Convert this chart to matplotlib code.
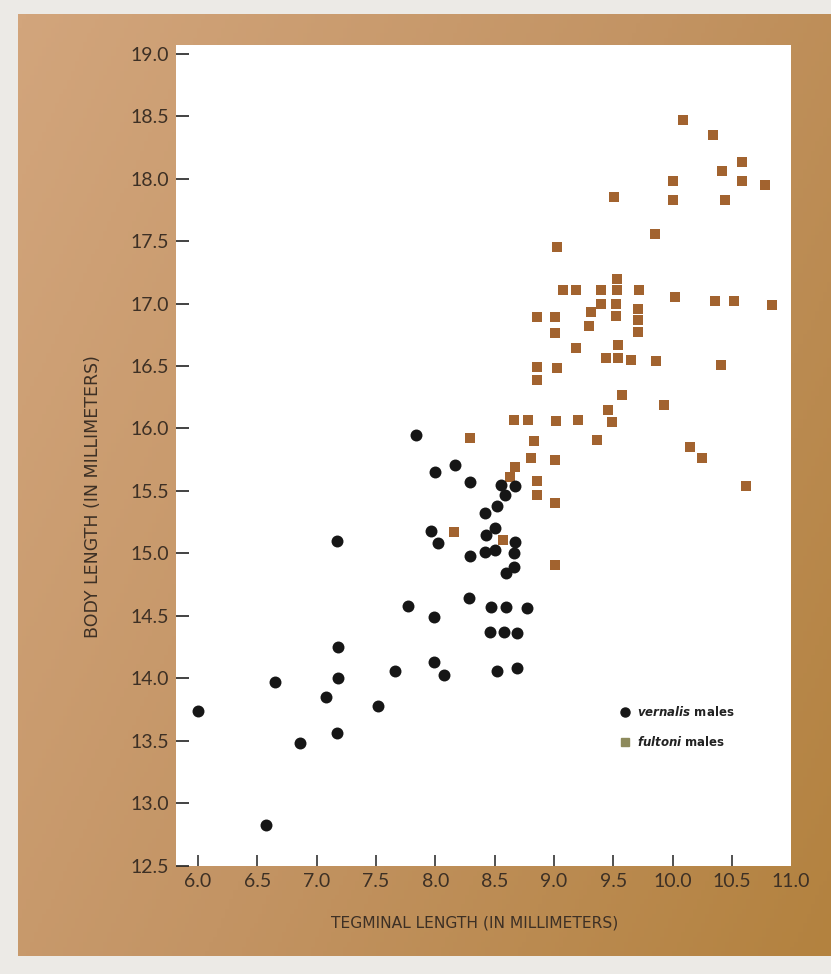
import numpy as np
import matplotlib
matplotlib.use("Agg")
import matplotlib.pyplot as plt
from matplotlib.lines import Line2D
from matplotlib.colors import LinearSegmentedColormap

# vernalis males: tegminal length vs body length (mm)
vern_x = [6.00, 6.65, 6.57, 6.86, 7.08, 7.18, 7.18, 7.17, 7.52, 7.66,
          7.84, 8.00, 8.17, 8.29, 8.55, 8.67, 8.59, 8.52, 8.42, 8.50,
          8.43, 7.96, 8.02, 7.17, 8.67, 8.66, 8.50, 8.42, 8.29, 8.66,
          8.60, 8.28, 7.77, 7.99, 8.47, 8.60, 8.77, 8.46, 8.58, 8.69,
          7.99, 8.07, 8.52, 8.69]
vern_y = [13.74, 13.97, 12.83, 13.48, 13.85, 14.25, 14.00, 13.56, 13.78, 14.06,
          15.95, 15.65, 15.71, 15.57, 15.55, 15.54, 15.47, 15.38, 15.32, 15.20,
          15.15, 15.18, 15.08, 15.10, 15.09, 15.00, 15.03, 15.01, 14.98, 14.89,
          14.84, 14.64, 14.58, 14.49, 14.57, 14.57, 14.56, 14.37, 14.37, 14.36,
          14.13, 14.03, 14.06, 14.08]

# fultoni males
fult_x = [10.09, 10.34, 10.59, 10.42, 10.00, 10.59, 10.78, 9.51, 10.00, 10.44,
          9.85, 9.03, 9.53, 9.08, 9.19, 9.40, 9.53, 9.72, 10.02, 10.36,
          10.52, 10.84, 9.40, 9.52, 9.71, 9.31, 8.86, 9.01, 9.52, 9.71,
          9.30, 9.01, 9.71, 9.54, 9.19, 9.44, 9.54, 9.65, 9.86, 10.41,
          8.86, 9.03, 8.86, 9.57, 9.93, 9.46, 9.49, 8.66, 8.78, 9.02,
          9.20, 8.29, 8.83, 9.36, 10.15, 8.81, 9.01, 10.25, 8.67, 8.63,
          8.86, 8.86, 9.01, 8.16, 8.57, 9.01, 10.62]
fult_y = [18.47, 18.35, 18.13, 18.06, 17.98, 17.98, 17.95, 17.85, 17.83, 17.83,
          17.56, 17.45, 17.20, 17.11, 17.11, 17.11, 17.11, 17.11, 17.05, 17.02,
          17.02, 16.99, 17.00, 17.00, 16.96, 16.93, 16.89, 16.89, 16.90, 16.87,
          16.82, 16.76, 16.77, 16.67, 16.64, 16.56, 16.56, 16.55, 16.54, 16.51,
          16.49, 16.48, 16.39, 16.27, 16.19, 16.15, 16.05, 16.07, 16.07, 16.06,
          16.07, 15.92, 15.90, 15.91, 15.85, 15.76, 15.75, 15.76, 15.69, 15.61,
          15.58, 15.47, 15.40, 15.17, 15.11, 14.91, 15.54]

x_ticks = [6.0, 6.5, 7.0, 7.5, 8.0, 8.5, 9.0, 9.5, 10.0, 10.5, 11.0]
y_ticks = [12.5, 13.0, 13.5, 14.0, 14.5, 15.0, 15.5, 16.0, 16.5, 17.0,
           17.5, 18.0, 18.5, 19.0]

plt.rcParams['font.family'] = ['Lato', 'DejaVu Sans']
plt.rcParams['mathtext.fontset'] = 'custom'
plt.rcParams['mathtext.it'] = 'DejaVu Sans:italic:bold'
plt.rcParams['mathtext.rm'] = 'DejaVu Sans'

txt = '#3d3025'

fig = plt.figure(figsize=(8.31, 9.74), dpi=100)
fig.patch.set_facecolor('#eceae6')

# brown photo frame behind the chart
bg = fig.add_axes([0, 0, 1, 1], zorder=-5)
gx, gy = np.meshgrid(np.linspace(0, 1, 200), np.linspace(0, 1, 200))
grad = 0.65 * gx + 0.35 * gy
frame_cmap = LinearSegmentedColormap.from_list('frame', ['#d2a57c', '#c39464', '#b3823f'])
bg.imshow(grad, cmap=frame_cmap, extent=(0.022, 1.0, 0.018, 0.985),
          aspect='auto', origin='upper')
bg.set_xlim(0, 1)
bg.set_ylim(0, 1)
bg.axis('off')

ax = fig.add_axes([0.212, 0.111, 0.740, 0.843])
ax.set_facecolor('white')

ax.scatter(vern_x, vern_y, s=74, marker='o', color='#161616', linewidths=0, zorder=3)
ax.scatter(fult_x, fult_y, s=46, marker='s', color='#a2632f', linewidths=0, zorder=2)

ax.set_xlim(5.815, 11.0)
ax.set_ylim(12.5, 19.07)
ax.set_xticks(x_ticks)
ax.set_yticks(y_ticks)
ax.set_xticklabels(['%.1f' % v for v in x_ticks])
ax.set_yticklabels(['%.1f' % v for v in y_ticks])
for sp in ax.spines.values():
    sp.set_visible(False)
ax.tick_params(axis='y', direction='in', length=9, width=1.2, color='#222222',
               labelsize=14, labelcolor=txt, pad=5)
ax.tick_params(axis='x', direction='in', length=8, width=1.1, color='#222222',
               labelsize=14, labelcolor=txt, pad=5)
# the 11.0 tick sits on the panel edge and is not drawn in the original
ax.xaxis.get_major_ticks()[-1].tick1line.set_visible(False)

ax.set_xlabel('TEGMINAL LENGTH (IN MILLIMETERS)', fontsize=11.2, color=txt,
              family='DejaVu Sans')
ax.set_ylabel('BODY LENGTH (IN MILLIMETERS)', fontsize=12.5, color=txt,
              family='DejaVu Sans')
ax.xaxis.set_label_coords(0.485, -0.061)
ax.yaxis.set_label_coords(-0.121, 0.45)

handles = [
    Line2D([], [], marker='o', linestyle='none', markersize=6.5, color='#161616'),
    Line2D([], [], marker='s', linestyle='none', markersize=5.5, color='#8d8a5c'),
]
labels = [r'$\mathit{vernalis}$ males', r'$\mathit{fultoni}$ males']
ax.legend(handles, labels, loc='center left', bbox_to_anchor=(0.703, 0.169),
          frameon=False, handletextpad=0.5, labelspacing=1.35,
          handlelength=1.0, labelcolor='#222222',
          prop={'family': 'DejaVu Sans', 'weight': 'bold', 'size': 8.5})

fig.savefig('out.png', dpi=100, facecolor=fig.get_facecolor())
